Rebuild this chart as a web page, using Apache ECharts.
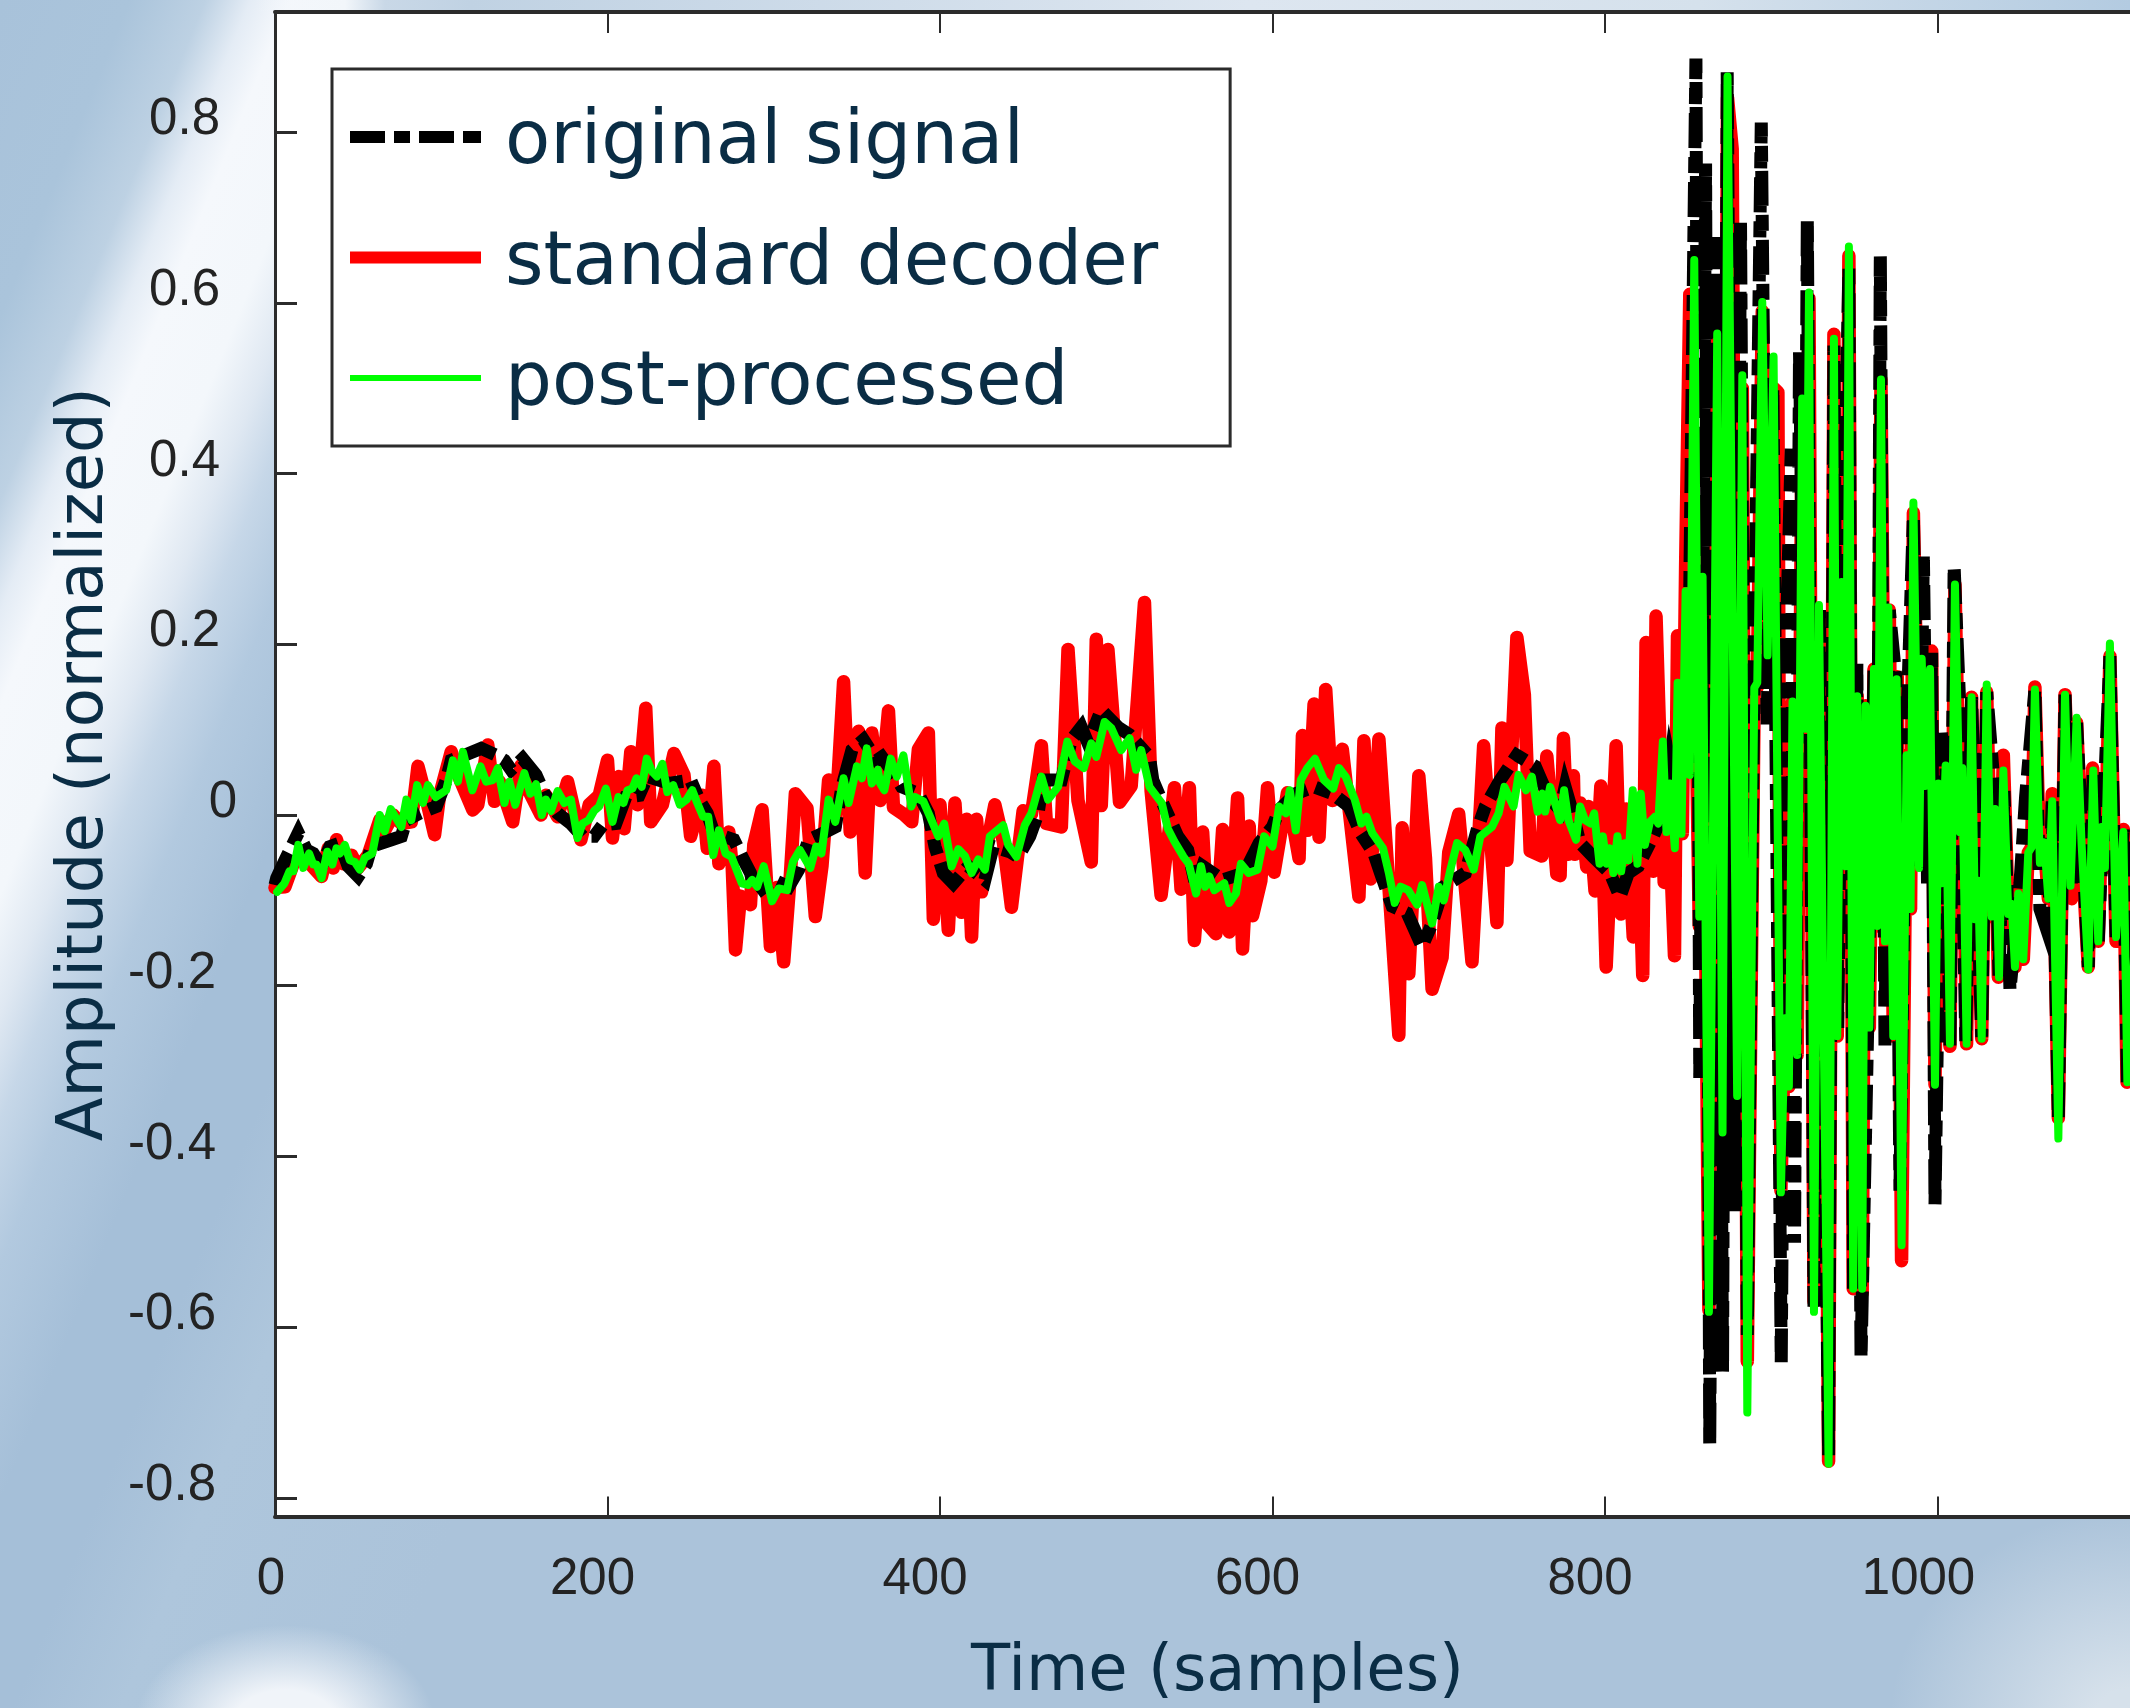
<!DOCTYPE html>
<html><head><meta charset="utf-8">
<style>
html,body{margin:0;padding:0;width:2130px;height:1708px;overflow:hidden}
body{background:
 linear-gradient(to right,rgba(242,246,250,0) 255px,#f2f6fa 345px,#c9d8e7 385px,#c0d2e3 470px,#dde6f0 1250px,#d5e1ec 1700px,#b3cbe1 2130px) 0 0/100% 11px no-repeat,
 radial-gradient(ellipse 150px 100px at 285px 1725px,#f0f4f9 35%,rgba(240,244,249,0) 100%),
 radial-gradient(ellipse 240px 210px at 2130px 1720px,#d6e1eb 15%,rgba(214,225,235,0) 100%),
 linear-gradient(112.3deg,#a8c2da 0,#aac4db 120px,#bdd1e3 190px,#e4ecf5 232px,#f5f8fc 268px,#f3f7fb 340px,#dfe8f2 385px,#c6d7e8 425px,#b2c9df 480px,#a5bfd8 570px,#a5bfd8 660px,#aec6dc 760px,#abc3da 1000px,#abc3da 2600px)}
#chart{width:2130px;height:1708px}
</style>
<script src="https://cdn.jsdelivr.net/npm/echarts@6/dist/echarts.min.js"></script>
</head><body><div id="chart"></div>
<script>
const xTicksMax = 1200;
const yTickValues = [-0.8,-0.6,-0.4,-0.2,0,0.2,0.4,0.6,0.8];
const seriesNames = ['original signal','standard decoder','post-processed'];

const originalSignal = [[0,-0.082],[1,-0.074],[6,-0.053],[9,-0.041],[14,-0.021],[19,-0.041],[23,-0.045],[28,-0.060],[33,-0.037],[39,-0.033],[44,-0.060],[50,-0.072],[55,-0.057],[58,-0.037],[70,-0.029],[76,-0.025],[79,-0.006],[87,0.002],[97,0.010],[103,0.041],[106,0.064],[114,0.070],[124,0.078],[133,0.070],[138,0.064],[142,0.053],[149,0.066],[157,0.047],[162,0.025],[170,0.002],[178,-0.010],[185,-0.025],[192,-0.025],[197,-0.012],[205,-0.010],[211,0.021],[219,0.023],[224,0.045],[237,0.037],[250,0.041],[255,0.018],[260,0.002],[264,-0.021],[276,-0.029],[282,-0.053],[286,-0.068],[289,-0.092],[300,-0.076],[309,-0.084],[315,-0.064],[321,-0.029],[330,-0.021],[337,-0.014],[341,0.033],[347,0.076],[354,0.088],[362,0.064],[365,0.068],[372,0.049],[377,0.033],[387,0.025],[393,0.002],[397,-0.037],[402,-0.068],[408,-0.080],[417,-0.060],[427,-0.076],[432,-0.037],[442,-0.043],[447,-0.049],[454,-0.025],[459,0.002],[462,0.041],[473,0.041],[479,0.088],[485,0.103],[489,0.084],[497,0.123],[507,0.103],[514,0.094],[526,0.068],[528,0.041],[533,0.018],[543,-0.025],[549,-0.041],[554,-0.084],[558,-0.060],[570,-0.076],[583,-0.068],[592,-0.033],[600,-0.014],[604,0.006],[614,0.025],[625,0.033],[636,0.025],[646,0.010],[653,-0.021],[661,-0.045],[665,-0.068],[672,-0.107],[681,-0.115],[690,-0.154],[696,-0.127],[703,-0.084],[716,-0.068],[723,-0.018],[728,0.010],[737,0.041],[747,0.070],[758,0.057],[766,0.021],[773,0.006],[776,0.033],[780,0.006],[785,-0.033],[793,-0.049],[803,-0.068],[809,-0.096],[814,-0.068],[820,-0.060],[829,-0.025],[835,0.002],[839,0.060],[843,0.020],[846,0.060],[850,0.100],[854.7,0.886],[857,-0.308],[860.5,0.763],[863,-0.738],[867,0.677],[870.7,-0.652],[873.5,0.870],[878,-0.464],[881.5,0.698],[885.6,-0.609],[889,0.050],[894,0.811],[897.5,0.106],[901,0.500],[906,-0.641],[909,0.200],[912,0.429],[914,-0.501],[917,0.542],[920,0.100],[921.7,0.698],[925.7,-0.576],[929,0.240],[934.5,-0.750],[937.7,0.550],[940,-0.250],[943,0.270],[946.7,0.640],[949.5,-0.555],[951.5,0.177],[954,-0.636],[958,-0.250],[961.8,0.170],[963.8,-0.130],[965.6,0.657],[968.4,-0.270],[971,0.240],[975,0.160],[977.4,-0.440],[981,0.070],[985.5,0.350],[988.9,-0.060],[991.5,0.306],[994,-0.080],[996.5,0.190],[998.5,-0.456],[1002.5,0.096],[1005,0.060],[1007.5,-0.270],[1010,0.291],[1013.5,0.123],[1017,-0.265],[1020.5,0.138],[1026.6,-0.260],[1029.6,0.144],[1034.6,0.022],[1037,-0.190],[1040,0.030],[1043.6,-0.205],[1049.6,-0.080],[1053,0.022],[1058.6,0.147],[1061.6,-0.110],[1066.7,-0.140],[1069,0.016],[1072.7,-0.355],[1076.7,0.141],[1080.5,-0.080],[1083.7,0.108],[1090.7,-0.178],[1093.7,0.052],[1096.7,-0.148],[1103.7,0.186],[1107.4,-0.143],[1111.8,-0.017],[1114.2,-0.313],[1120,-0.100]];

const standardDecoder = [[0,-0.085],[1,-0.084],[6,-0.084],[11,-0.057],[17,-0.047],[22,-0.059],[28,-0.072],[32,-0.039],[35,-0.062],[37,-0.029],[41,-0.057],[46,-0.047],[50,-0.062],[56,-0.047],[63,-0.006],[66,-0.018],[71,0.000],[76,-0.010],[82,-0.008],[86,0.057],[90,0.027],[96,-0.023],[99,0.023],[106,0.074],[111,0.043],[119,0.006],[122,0.012],[128,0.082],[132,0.016],[135,0.039],[143,-0.008],[148,0.058],[153,0.027],[160,0.000],[163,0.023],[170,-0.002],[176,0.039],[184,-0.029],[189,0.012],[195,0.023],[200,0.064],[203,-0.027],[207,0.045],[210,-0.016],[214,0.074],[218,0.012],[223,0.125],[226,-0.008],[233,0.012],[240,0.072],[246,0.047],[250,-0.025],[257,0.023],[260,-0.039],[264,0.057],[267,-0.057],[273,-0.020],[275,-0.060],[277,-0.158],[280,-0.095],[283,-0.101],[286,-0.105],[288,-0.035],[293,0.006],[298,-0.154],[302,-0.085],[306,-0.172],[310,-0.070],[313,0.025],[320,0.008],[325,-0.119],[329,-0.060],[333,0.041],[337,-0.012],[342,0.156],[346,-0.020],[351,0.098],[355,-0.068],[359,0.096],[364,0.017],[369,0.122],[372,0.009],[378,0.001],[383,-0.008],[387,0.077],[393,0.096],[396,-0.122],[400,0.012],[405,-0.135],[409,0.014],[413,-0.114],[416,-0.005],[419,-0.143],[422,-0.005],[425,-0.090],[429,-0.028],[433,0.012],[438,-0.030],[443,-0.108],[450,0.005],[455,0.001],[461,0.081],[464,-0.010],[473,-0.014],[477,0.194],[483,0.017],[491,-0.055],[494,0.206],[497,0.011],[501,0.194],[508,0.015],[515,0.034],[523,0.249],[527,0.028],[533,-0.094],[541,0.032],[545,-0.087],[550,0.032],[553,-0.147],[558,-0.020],[561,-0.128],[566,-0.139],[570,-0.017],[574,-0.137],[579,0.020],[582,-0.157],[586,-0.013],[588,-0.118],[593,-0.077],[597,0.032],[601,-0.067],[609,0.026],[616,-0.051],[618,0.093],[621,-0.018],[625,0.130],[628,-0.026],[632,0.147],[636,0.017],[642,0.077],[652,-0.096],[655,0.087],[659,-0.075],[664,0.089],[671,-0.112],[676,-0.258],[678,-0.015],[682,-0.186],[688,0.046],[692,-0.050],[696,-0.204],[702,-0.167],[706,-0.044],[712,0.001],[720,-0.172],[727,0.081],[735,-0.126],[738,0.102],[741,-0.053],[747,0.208],[751.5,0.141],[755,-0.042],[762,-0.048],[765,0.069],[771,-0.069],[773,-0.071],[775,0.090],[778,-0.046],[781,0.046],[782,-0.046],[785,0.014],[789,-0.061],[790,0.010],[794,-0.089],[797.5,0.034],[800.7,-0.178],[806.7,0.081],[809.7,-0.116],[812.7,0.007],[817,-0.143],[819.5,0.014],[822.7,-0.188],[824.7,0.202],[829,-0.066],[830.7,0.233],[835.6,-0.079],[837,0.073],[841.8,-0.165],[843.6,0.210],[846.5,-0.022],[848.5,0.292],[851,0.610],[856.7,-0.130],[858.7,0.270],[862.5,-0.580],[867.5,0.560],[870.7,-0.380],[873.7,0.840],[876.5,0.780],[879.5,-0.340],[882.6,0.500],[885.6,-0.640],[889.8,0.150],[891.6,0.150],[894.6,0.590],[897.8,0.190],[901.4,0.500],[904,0.495],[905.8,-0.440],[908.2,-0.238],[910.6,-0.318],[912.8,0.133],[915.6,-0.281],[918.6,0.488],[920.6,0.101],[922.7,0.605],[925.7,-0.570],[931,0.225],[934.5,-0.757],[937.7,0.563],[939.7,-0.259],[942.3,0.273],[944.7,-0.060],[946.7,0.655],[949.3,-0.555],[951.7,0.139],[954.7,-0.560],[956.7,0.128],[959,-0.249],[961.8,0.171],[963.8,-0.130],[966,0.510],[968.8,-0.152],[971,0.240],[973.4,-0.259],[975.8,0.162],[978.4,-0.522],[981.4,0.070],[983.8,-0.110],[985.5,0.354],[989.5,-0.050],[990.5,0.183],[992.5,0.034],[996.5,0.192],[998.5,-0.316],[1000.5,0.037],[1002.5,-0.080],[1004.9,0.058],[1007.5,-0.271],[1010.5,0.270],[1013.5,-0.020],[1014.9,0.055],[1017.5,-0.268],[1020.5,0.138],[1022.5,-0.122],[1024.5,-0.077],[1026.6,-0.262],[1029.6,0.144],[1032.6,-0.119],[1034.6,0.007],[1036.6,-0.190],[1039.6,0.070],[1042.6,-0.116],[1044.6,-0.104],[1046.6,-0.178],[1048.6,-0.092],[1051.6,-0.169],[1054.6,-0.044],[1056.6,-0.038],[1058.6,0.150],[1061.6,-0.056],[1064.2,-0.032],[1066.7,-0.098],[1069,0.025],[1072.7,-0.355],[1076.7,0.141],[1080.7,-0.098],[1083.7,0.108],[1086.7,-0.035],[1090.7,-0.178],[1093.3,0.055],[1096.7,-0.148],[1098.7,-0.014],[1100.7,-0.062],[1103.7,0.186],[1107.4,-0.148],[1111.8,-0.017],[1114,-0.313],[1120,-0.100]];

const postProcessed = [[1.3,-0.090],[5.7,-0.080],[8.7,-0.066],[11,-0.066],[14,-0.035],[17,-0.062],[20.5,-0.045],[23,-0.058],[25,-0.058],[28,-0.074],[31.5,-0.043],[34.5,-0.058],[37,-0.039],[39,-0.045],[42,-0.035],[45,-0.053],[48,-0.055],[51,-0.064],[54,-0.050],[58.5,-0.045],[63,0.000],[66,-0.019],[69.6,0.007],[76,-0.014],[79,0.018],[82,-0.006],[85.5,0.035],[89,0.014],[92,0.035],[96.6,0.021],[103,0.029],[107,0.064],[110,0.039],[113,0.074],[118.7,0.029],[123.6,0.057],[127,0.039],[131,0.041],[134,0.055],[138,0.014],[141,0.039],[144.5,0.012],[150,0.049],[153.6,0.025],[157,0.036],[160.5,0.000],[163,0.018],[166,0.005],[170,0.028],[174,0.014],[178,0.018],[182,-0.027],[185,-0.010],[188.7,-0.006],[192,0.005],[195,0.010],[199,0.031],[203,-0.008],[206.6,0.021],[209.6,0.014],[212,0.029],[215,0.031],[217.4,0.043],[220.6,0.033],[223.6,0.066],[226.8,0.051],[229.7,0.045],[233,0.060],[236,0.027],[239.5,0.035],[243.5,0.012],[247.6,0.018],[251,0.029],[254,0.014],[257.5,-0.002],[260.6,-0.002],[263.6,-0.047],[267,-0.018],[271,-0.045],[274.6,-0.049],[280.8,-0.080],[284.5,-0.082],[287,-0.076],[290,-0.084],[294,-0.060],[299,-0.101],[303,-0.086],[308,-0.088],[311.5,-0.055],[315.7,-0.041],[322,-0.062],[325.5,-0.037],[328.7,-0.045],[333,0.018],[337,-0.008],[342,0.043],[345,0.014],[350,0.057],[353,0.043],[356,0.078],[359,0.037],[362.6,0.053],[364,0.037],[366.5,0.029],[370.4,0.066],[374,0.045],[378,0.070],[382.7,0.010],[385,0.021],[390,0.016],[394,-0.002],[399,-0.025],[402.5,-0.010],[407,-0.060],[411,-0.040],[415,-0.048],[419,-0.068],[423,-0.052],[427,-0.064],[430,-0.025],[438,-0.012],[441,-0.035],[446,-0.049],[451,-0.012],[455,0.002],[461,0.045],[465,0.018],[471,0.033],[476.6,0.086],[481,0.063],[486.5,0.055],[491,0.084],[494,0.068],[499,0.109],[503,0.102],[509,0.076],[514,0.090],[518,0.053],[521,0.076],[526,0.033],[533.4,0.014],[537,-0.016],[541,-0.031],[546.5,-0.049],[549.6,-0.057],[554,-0.092],[557,-0.060],[559.5,-0.084],[562,-0.072],[565,-0.088],[571,-0.080],[574,-0.103],[578,-0.092],[581,-0.057],[585.6,-0.068],[591,-0.064],[595,-0.025],[600,-0.037],[604,0.010],[608,0.002],[610.4,0.029],[614,-0.018],[617,0.041],[621,0.055],[625.5,0.066],[631,0.041],[636.5,0.031],[640,0.055],[644,0.045],[649.5,0.018],[653.4,-0.010],[656.5,-0.002],[660,-0.021],[666.5,-0.039],[670,-0.068],[673.5,-0.103],[677,-0.084],[681.6,-0.088],[687,-0.105],[690,-0.082],[696,-0.127],[700,-0.084],[703,-0.100],[707,-0.064],[711,-0.033],[716,-0.041],[721,-0.064],[725,-0.025],[732,-0.014],[736,0.002],[739.5,0.033],[745,0.010],[748,0.047],[752.5,0.029],[756,0.045],[759.5,0.004],[762.4,0.025],[764,0.004],[767,0.033],[773,-0.006],[775.4,0.029],[778,-0.006],[782.6,-0.029],[785,0.010],[788,-0.006],[791.4,-0.010],[793.5,0.002],[796.7,-0.057],[798.7,-0.025],[801,-0.057],[803,-0.039],[805,-0.068],[807.5,-0.025],[809.7,-0.066],[812,-0.033],[814,-0.053],[816.7,0.029],[819.5,-0.057],[821.5,0.025],[824,-0.035],[827,-0.008],[830,-0.002],[832,-0.010],[834.8,0.086],[837,-0.020],[839,0.037],[842,-0.039],[843.7,0.155],[846,-0.022],[848.5,0.262],[851,0.047],[853.7,0.650],[856.7,-0.119],[858.7,0.279],[862.5,-0.582],[867.5,0.564],[870.7,-0.372],[873.7,0.865],[879.5,-0.329],[882.6,0.515],[885.6,-0.700],[889.8,0.149],[891.6,0.155],[894.6,0.601],[897.8,0.187],[901.4,0.537],[905.8,-0.442],[908.2,-0.238],[910.6,-0.318],[912.8,0.133],[915.6,-0.281],[918.6,0.488],[920.6,0.101],[922.7,0.612],[925.7,-0.582],[928.7,0.246],[934.5,-0.760],[937.7,0.558],[939.7,-0.259],[942.3,0.273],[944.7,-0.060],[946.7,0.666],[949.3,-0.555],[951.7,0.139],[954.7,-0.555],[956.7,0.128],[959,-0.249],[961.8,0.171],[963.8,-0.130],[966,0.510],[968.4,-0.148],[970.4,0.243],[973.4,-0.259],[975.4,0.159],[978.4,-0.504],[981.4,0.070],[983.8,-0.110],[985.5,0.366],[988.9,-0.062],[990.5,0.183],[992.5,0.034],[995.5,0.171],[998.5,-0.316],[1000.5,0.037],[1002.5,-0.080],[1004.9,0.058],[1007.5,-0.268],[1010.5,0.270],[1013.5,-0.020],[1014.9,0.055],[1017.5,-0.268],[1020.5,0.138],[1022.5,-0.122],[1024.5,-0.077],[1026.6,-0.262],[1029.6,0.153],[1032.6,-0.119],[1034.6,0.007],[1037,-0.190],[1039.6,0.052],[1042.6,-0.116],[1044.6,-0.104],[1046.6,-0.178],[1048.6,-0.092],[1051.6,-0.169],[1054.6,-0.044],[1056.6,-0.038],[1058.6,0.147],[1061.6,-0.056],[1064.2,-0.032],[1066.7,-0.098],[1069,0.016],[1072.7,-0.379],[1076.7,0.141],[1080,-0.083],[1083.7,0.114],[1086.7,-0.035],[1090.7,-0.181],[1093.7,0.052],[1096.7,-0.148],[1098.7,-0.014],[1100.7,-0.062],[1103.7,0.201],[1107.4,-0.143],[1111.8,-0.020],[1114.2,-0.313],[1120,-0.100]];

const axisColor = '#2b2b2b', titleColor = '#0a2d45', tickColor = '#232323';
const chart = echarts.init(document.getElementById('chart'), null, {renderer:'canvas'});
function xLabel(v){
  if(v===0) return '{a|0}';
  if(v>=1000) return '{c|'+v+'}';
  return '{b|'+v+'}';
}
function yLabel(v){
  if(v===0) return '{z|0}';
  return (v<0?'{n|':'{p|')+v+'}';
}
const lblBase = {fontFamily:'Liberation Sans',fontSize:51,color:tickColor};
const corner = ' M130.99 25.99H131V26H130.99Z';
const dashIcon = 'path://M0 0H35V12H0Z M44 0H60V12H44Z M69 0H104V12H69Z M113 0H131V12H113Z'+corner;
const solidIcon = 'path://M0 0H131V12H0Z'+corner;
const thinIcon = 'path://M0 0H0.01V0.01H0Z M0 3H131V9H0Z'+corner;
chart.setOption({
  animation:false,
  backgroundColor:'transparent',
  grid:{left:275,top:12,width:1995,height:1504.5,outerBoundsMode:'none',show:true,backgroundColor:'#ffffff',borderWidth:0},
  legend:{
    data:[{name:seriesNames[0],icon:dashIcon},{name:seriesNames[1],icon:solidIcon},{name:seriesNames[2],icon:thinIcon}],
    orient:'vertical',left:332,top:69,
    padding:[38,72,24,18],itemGap:46.5,itemWidth:131,itemHeight:26,
    backgroundColor:'#fff',borderColor:'#2b2b2b',borderWidth:3,selectedMode:false,
    itemStyle:{borderWidth:0},
    textStyle:{fontFamily:'DejaVu Sans',fontSize:74,color:titleColor,lineHeight:74,padding:[0,0,0,19]}
  },
  xAxis:[{
    type:'value',min:0,max:xTicksMax,interval:200,position:'bottom',
    name:'Time (samples)',nameLocation:'middle',nameGap:125,
    nameTextStyle:{fontFamily:'DejaVu Sans',fontSize:64,color:titleColor,padding:[0,110,0,0]},
    axisLine:{show:true,onZero:false,lineStyle:{color:axisColor,width:4}},
    axisTick:{show:true,inside:true,length:20,lineStyle:{color:axisColor,width:2}},
    axisLabel:{margin:38,formatter:xLabel,rich:{
      a:{...lblBase,padding:[0,8,0,0]},b:{...lblBase,padding:[0,30,0,0]},c:{...lblBase,padding:[0,38,0,0]}}},
    splitLine:{show:false}
  },{
    type:'value',min:0,max:xTicksMax,interval:200,position:'top',
    axisLine:{show:true,onZero:false,lineStyle:{color:axisColor,width:4}},
    axisTick:{show:true,inside:true,length:21,lineStyle:{color:axisColor,width:2}},
    axisLabel:{show:false},splitLine:{show:false}
  }],
  yAxis:{
    type:'value',min:-0.8217,max:0.9406,position:'left',
    name:'Amplitude (normalized)',nameLocation:'middle',nameGap:156,
    nameTextStyle:{fontFamily:'DejaVu Sans',fontSize:64,color:titleColor},
    axisLine:{show:true,onZero:false,lineStyle:{color:axisColor,width:3}},
    axisTick:{show:true,inside:true,length:22,lineStyle:{color:axisColor,width:3},customValues:yTickValues},
    axisLabel:{margin:38,formatter:yLabel,customValues:yTickValues,rich:{
      p:{...lblBase,padding:[0,17,24,0]},n:{...lblBase,padding:[0,21,24,0]},z:{...lblBase,padding:[0,0,24,0]}}},
    splitLine:{show:false}
  },
  series:[
    {name:seriesNames[1],type:'line',data:standardDecoder,z:2,symbol:'none',smooth:false,
      lineStyle:{color:'#ff0000',width:13.5,cap:'round',join:'round'},itemStyle:{color:'#ff0000'}},
    {name:seriesNames[0],type:'line',data:originalSignal,z:3,symbol:'none',smooth:false,
      lineStyle:{color:'#000000',width:13,type:[35,9,16,9],cap:'butt',join:'miter'},itemStyle:{color:'#000000'}},
    {name:seriesNames[2],type:'line',data:postProcessed,z:4,symbol:'none',smooth:false,
      lineStyle:{color:'#00ff00',width:8,cap:'round',join:'round'},itemStyle:{color:'#00ff00'}}
  ]
});
</script></body></html>
